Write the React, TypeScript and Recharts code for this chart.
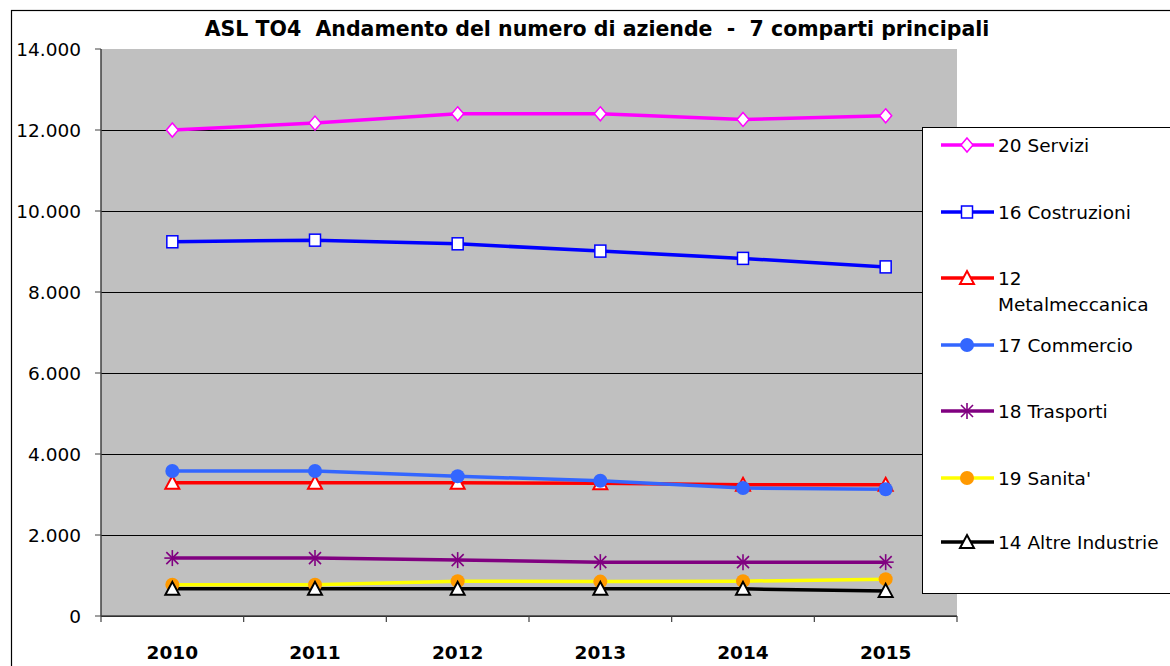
import React from "react";
import { LineChart, Line, XAxis, YAxis, CartesianGrid } from "recharts";

const years = ["2010", "2011", "2012", "2013", "2014", "2015"];

const servizi = [12000, 12170, 12400, 12400, 12260, 12350];
const costruzioni = [9240, 9280, 9190, 9010, 8830, 8620];
const metalmeccanica = [3290, 3290, 3290, 3280, 3240, 3240];
const commercio = [3580, 3580, 3450, 3340, 3160, 3130];
const trasporti = [1430, 1430, 1380, 1330, 1330, 1330];
const sanita = [770, 770, 860, 850, 860, 910];
const altreIndustrie = [670, 670, 670, 670, 670, 620];

const yTicks = [0, 2000, 4000, 6000, 8000, 10000, 12000, 14000];

const title = "ASL TO4  Andamento del numero di aziende  -  7 comparti principali";

// legend / drawing order
const series = [
  { key: "servizi", label: ["20 Servizi"], values: servizi, color: "#ff00ff", shape: "diamond", fill: "#ffffff" },
  { key: "costruzioni", label: ["16 Costruzioni"], values: costruzioni, color: "#0000ff", shape: "square", fill: "#ffffff" },
  { key: "metal", label: ["12", "Metalmeccanica"], values: metalmeccanica, color: "#ff0000", shape: "triangle", fill: "#ffffff" },
  { key: "commercio", label: ["17 Commercio"], values: commercio, color: "#3366ff", shape: "circle", fill: "#3366ff" },
  { key: "trasporti", label: ["18 Trasporti"], values: trasporti, color: "#800080", shape: "star", fill: "none" },
  { key: "sanita", label: ["19 Sanita'"], values: sanita, color: "#ffff00", shape: "circle", fill: "#ff9900" },
  { key: "altre", label: ["14 Altre Industrie"], values: altreIndustrie, color: "#000000", shape: "triangle", fill: "#ffffff" },
];

const data = years.map((year, i) => {
  const row: Record<string, string | number> = { year, slot: i + 0.5 };
  series.forEach((s) => (row[s.key] = s.values[i]));
  return row;
});

const W = 1170;
const H = 666;
const PLOT_L = 101;
const PLOT_R = 957;
const PLOT_T = 49;
const PLOT_B = 616;
const HALF_BAND = (PLOT_R - PLOT_L) / years.length / 2;
const FONT = "'DejaVu Sans', Arial, sans-serif";

const fmt = (v: number) => String(v).replace(/\B(?=(\d{3})+(?!\d))/g, ".");

function Marker({ shape, cx, cy, color, fill }: any) {
  if (cx == null || cy == null) return null;
  switch (shape) {
    case "diamond":
      return (
        <path
          d={`M${cx},${cy - 7} L${cx + 6},${cy} L${cx},${cy + 7} L${cx - 6},${cy} Z`}
          fill={fill}
          stroke={color}
          strokeWidth={1.5}
        />
      );
    case "square":
      return <rect x={cx - 5.5} y={cy - 6} width={11} height={12} fill={fill} stroke={color} strokeWidth={1.5} />;
    case "triangle":
      return (
        <path
          d={`M${cx},${cy - 7} L${cx + 7},${cy + 6} L${cx - 7},${cy + 6} Z`}
          fill={fill}
          stroke={color}
          strokeWidth={2}
        />
      );
    case "circle":
      return <circle cx={cx} cy={cy} r={7} fill={fill} stroke="none" />;
    case "star":
      return (
        <g stroke={color} strokeWidth={1.6}>
          <line x1={cx - 8} y1={cy} x2={cx + 8} y2={cy} />
          <line x1={cx} y1={cy - 8} x2={cx} y2={cy + 8} />
          <line x1={cx - 6} y1={cy - 6} x2={cx + 6} y2={cy + 6} />
          <line x1={cx - 6} y1={cy + 6} x2={cx + 6} y2={cy - 6} />
        </g>
      );
    default:
      return null;
  }
}

function GridLine(props: any) {
  const { x1, x2, y1, y2 } = props;
  if (y1 <= PLOT_T + 1) return <g />;
  const y = Math.round(y1) + 0.5;
  return <line x1={x1} x2={x2} y1={y} y2={Math.round(y2) + 0.5} stroke="#000" strokeWidth={1} />;
}

function Legend() {
  const rows = [145, 212, 278, 345, 411, 478, 542];
  return (
    <svg width={W} height={H} style={{ position: "absolute", left: 0, top: 0, pointerEvents: "none" }}>
      <rect x={922.5} y={127.5} width={270} height={466} fill="#fff" stroke="#000" strokeWidth={1} />
      {series.map((s, i) => {
        const y = rows[i];
        return (
          <g key={s.key}>
            <line x1={941} x2={994} y1={y} y2={y} stroke={s.color} strokeWidth={3.5} />
            <Marker shape={s.shape} cx={967} cy={y} color={s.color} fill={s.fill} />
            {s.label.map((t, j) => (
              <text key={j} x={998} y={y + j * 26} dy="0.36em" fontFamily={FONT} fontSize={18.5} fill="#000">
                {t}
              </text>
            ))}
          </g>
        );
      })}
    </svg>
  );
}

export default function App() {
  return (
    <div style={{ position: "absolute", left: 0, top: 0, width: W, height: H, overflow: "hidden", background: "#fff" }}>
      <svg width={W} height={H} style={{ position: "absolute", left: 0, top: 0 }}>
        <rect x={11.5} y={10.5} width={1300} height={800} fill="none" stroke="#000" strokeWidth={1.2} />
        <text
          x={597}
          y={36}
          textAnchor="middle"
          fontFamily={FONT}
          fontSize={20.5}
          fontWeight="bold"
          fill="#000"
          style={{ whiteSpace: "pre" }}
        >
          {title}
        </text>
      </svg>
      <div style={{ position: "absolute", left: 0, top: 0 }}>
        <LineChart width={W} height={H} data={data} margin={{ top: PLOT_T, right: W - PLOT_R, bottom: 0, left: 0 }}>
          <CartesianGrid
            xAxisId="zCat"
            fill="#c0c0c0"
            vertical={false}
            horizontal={(p: any) => <GridLine key={p.key} {...p} />}
          />
          <XAxis
            xAxisId="aMarks"
            dataKey="slot"
            type="number"
            domain={[0, years.length]}
            allowDataOverflow
            ticks={[...years.map((_, i) => i), years.length]}
            height={1}
            tick={(p: any) => <g key={`m-${p.index}`} />}
            tickSize={6}
            tickLine={{ stroke: "#404040", strokeWidth: 1.2 }}
            axisLine={{ stroke: "#404040", strokeWidth: 1.5 }}
            interval={0}
          />
          <XAxis
            xAxisId="zCat"
            dataKey="year"
            height={H - PLOT_B - 1}
            padding={{ left: HALF_BAND, right: HALF_BAND }}
            axisLine={false}
            tickLine={false}
            tickSize={0}
            tickMargin={29}
            tick={{ fontFamily: FONT, fontSize: 18.5, fontWeight: "bold", fill: "#000" }}
            interval={0}
          />
          <YAxis
            width={PLOT_L}
            domain={[0, 14000]}
            ticks={yTicks}
            tickFormatter={fmt}
            tickSize={6}
            tickMargin={14}
            tickLine={{ stroke: "#404040" }}
            axisLine={{ stroke: "#404040", strokeWidth: 1.5 }}
            tick={{ fontFamily: FONT, fontSize: 18.5, fill: "#000" }}
            interval={0}
          />
          {series.map((s) => (
            <Line
              key={s.key}
              xAxisId="zCat"
              dataKey={s.key}
              stroke={s.color}
              strokeWidth={3.5}
              isAnimationActive={false}
              dot={(p: any) => (
                <Marker key={`${s.key}-${p.index}`} shape={s.shape} cx={p.cx} cy={p.cy} color={s.color} fill={s.fill} />
              )}
              activeDot={false}
            />
          ))}
        </LineChart>
      </div>
      <Legend />
    </div>
  );
}
